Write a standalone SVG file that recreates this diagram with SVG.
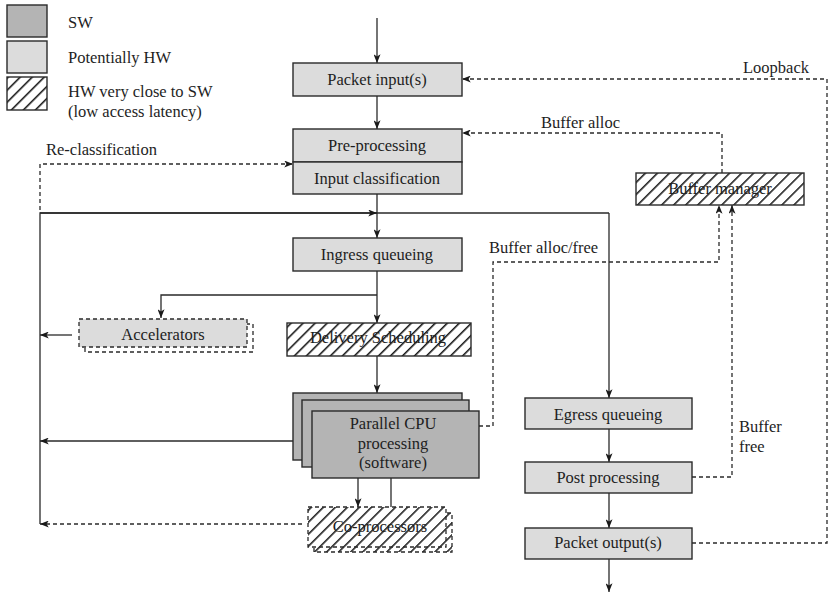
<svg xmlns="http://www.w3.org/2000/svg" width="838" height="592" viewBox="0 0 838 592">
<style>
text{font-family:"Liberation Serif","Times New Roman",serif;font-size:16.5px;fill:#1e1e1e}
.c{text-anchor:middle}
.sw{fill:#b4b4b4;stroke:#2a2a2a;stroke-width:1.4}
.hw{fill:#dcdcdc;stroke:#2a2a2a;stroke-width:1.4}
.ht{fill:url(#hatch);stroke:#2a2a2a;stroke-width:1.4}
.dbox{stroke:#2a2a2a;stroke-width:1.3;stroke-dasharray:4 3}
.ln{fill:none;stroke:#2a2a2a;stroke-width:1.3}
.dl{fill:none;stroke:#2a2a2a;stroke-width:1.3;stroke-dasharray:4 3}
.ar{marker-end:url(#arr)}
</style>
<defs>
<pattern id="hatch" patternUnits="userSpaceOnUse" width="8.5" height="8.5" patternTransform="rotate(45)">
<rect width="8.5" height="8.5" fill="#fff"/>
<line x1="0.8" y1="0" x2="0.8" y2="8.5" stroke="#111" stroke-width="1.5"/>
</pattern>
<marker id="arr" viewBox="0 0 10 8" refX="10" refY="4" markerWidth="9" markerHeight="7" markerUnits="userSpaceOnUse" orient="auto">
<path d="M0,0 L10,4 L0,8 L2.5,4 z" fill="#1a1a1a"/>
</marker>
</defs>

<g id="legend">
<rect class="sw" x="7" y="5" width="40" height="32"/>
<rect class="hw" x="7" y="41" width="40" height="32"/>
<rect class="ht" x="7" y="77" width="40" height="33"/>
<text x="68" y="28">SW</text>
<text x="68" y="63">Potentially HW</text>
<text x="68" y="97">HW very close to SW</text>
<text x="68" y="117">(low access latency)</text>
</g>

<g id="connectors">
<line class="ln ar" x1="377" y1="18" x2="377" y2="63"/>
<line class="ln ar" x1="377" y1="96" x2="377" y2="129"/>
<line class="ln ar" x1="377" y1="194" x2="377" y2="238"/>
<polyline class="ln" points="40,524 40,213 609,213"/>
<line class="ln ar" x1="40" y1="213" x2="377" y2="213"/>
<polyline class="ln ar" points="609,213 609,398"/>
<line class="ln ar" x1="377" y1="271" x2="377" y2="323"/>
<polyline class="ln ar" points="377,295 161,295 161,318"/>
<line class="ln ar" x1="72" y1="335" x2="40" y2="335"/>
<line class="ln ar" x1="377" y1="356" x2="377" y2="393"/>
<line class="ln ar" x1="293" y1="441" x2="40" y2="441"/>
<line class="ln ar" x1="358" y1="478" x2="358" y2="507"/>
<line class="ln" x1="391" y1="478" x2="391" y2="507"/>
<line class="dl ar" x1="302" y1="524" x2="40" y2="524"/>
<polyline class="dl ar" points="40,210 40,164 293,164"/>
<polyline class="dl ar" points="722,173 722,133 462,133"/>
<polyline class="dl ar" points="692,543 827,543 827,79 462,79"/>
<polyline class="dl ar" points="692,477 732,477 732,205"/>
<polyline class="dl ar" points="479,426 493,426 493,262 719,262 719,205"/>
<line class="ln ar" x1="609" y1="429" x2="609" y2="462"/>
<line class="ln ar" x1="609" y1="493" x2="609" y2="528"/>
<line class="ln ar" x1="609" y1="559" x2="609" y2="592"/>
<text x="541" y="128">Buffer alloc</text>
<text x="743" y="73">Loopback</text>
<text x="46" y="155">Re-classification</text>
<text x="489" y="253">Buffer alloc/free</text>
<text x="739" y="432">Buffer</text>
<text x="739" y="452">free</text>
</g>

<g id="packet-input">
<rect class="hw" x="293" y="63" width="169" height="33"/>
<text class="c" x="377" y="85">Packet input(s)</text>
</g>

<g id="pre-processing">
<rect class="hw" x="293" y="129" width="169" height="33"/>
<text class="c" x="377" y="151">Pre-processing</text>
</g>

<g id="input-classification">
<rect class="hw" x="293" y="162" width="169" height="32"/>
<text class="c" x="377" y="184">Input classification</text>
</g>

<g id="ingress-queueing">
<rect class="hw" x="293" y="238" width="169" height="33"/>
<text class="c" x="377" y="260">Ingress queueing</text>
</g>

<g id="accelerators">
<rect class="dbox" fill="#fff" x="85" y="324" width="168" height="28"/>
<rect class="dbox" fill="#dcdcdc" x="79" y="319" width="168" height="28"/>
<text class="c" x="163" y="340">Accelerators</text>
</g>

<g id="delivery-scheduling">
<rect class="ht" x="287" y="323" width="184" height="33"/>
<text class="c" x="378" y="343">Delivery Scheduling</text>
</g>

<g id="parallel-cpu">
<rect class="sw" x="293" y="393" width="169" height="67"/>
<rect class="sw" x="302" y="400" width="167" height="67"/>
<rect class="sw" x="312" y="411" width="167" height="67"/>
<text class="c" x="393" y="429">Parallel CPU</text>
<text class="c" x="393" y="449">processing</text>
<text class="c" x="393" y="468">(software)</text>
</g>

<g id="co-processors">
<rect class="dbox" fill="url(#hatch)" x="314" y="513" width="138" height="39"/>
<rect class="dbox" fill="url(#hatch)" x="308" y="507" width="138" height="40"/>
<text class="c" x="380" y="532">Co-processors</text>
</g>

<g id="buffer-manager">
<rect class="ht" x="636" y="173" width="168" height="32"/>
<text class="c" x="720" y="194">Buffer manager</text>
</g>

<g id="egress-queueing">
<rect class="hw" x="525" y="398" width="167" height="31"/>
<text class="c" x="608" y="420">Egress queueing</text>
</g>

<g id="post-processing">
<rect class="hw" x="525" y="462" width="167" height="31"/>
<text class="c" x="608" y="483">Post processing</text>
</g>

<g id="packet-output">
<rect class="hw" x="525" y="528" width="167" height="31"/>
<text class="c" x="608" y="548">Packet output(s)</text>
</g>
</svg>
